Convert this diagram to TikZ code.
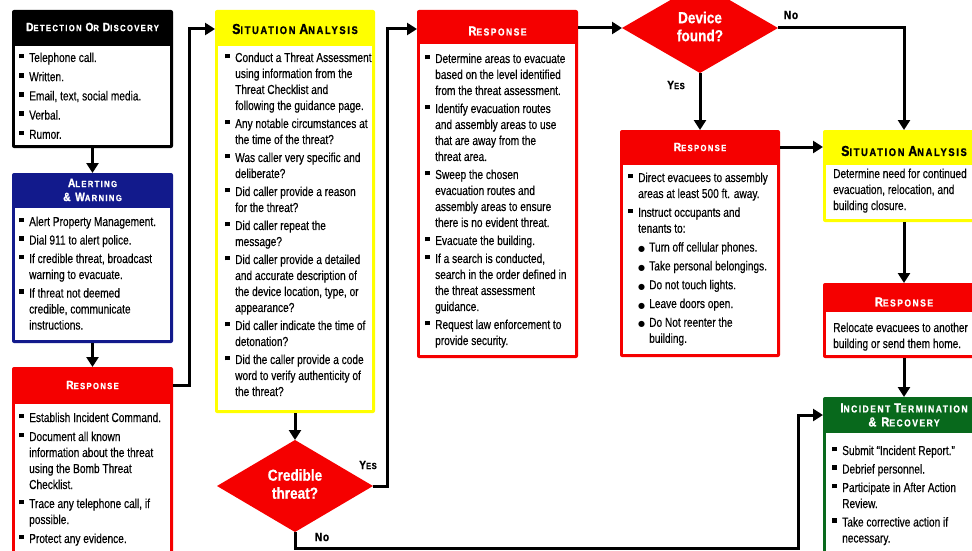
\documentclass[tikz,border=0pt]{standalone}
\usepackage{fontspec}
\setmainfont{Liberation Sans}[FakeStretch=0.78,FakeBold=0.3]
\newfontfamily\hdfont{Liberation Sans}[FakeStretch=0.85,LetterSpace=15,FakeBold=1.2]
\newfontfamily\lbfont{Liberation Sans}[FakeStretch=0.85,LetterSpace=6,FakeBold=1]
\newfontfamily\dmfont{Liberation Sans}[FakeStretch=0.85,FakeBold=0.6]
\newfontfamily\symfont{DejaVu Sans}
\usetikzlibrary{arrows.meta,shapes.geometric,calc}
\definecolor{fred}{RGB}{245,0,0}
\definecolor{fblue}{RGB}{18,26,140}
\definecolor{fgreen}{RGB}{8,105,28}
\definecolor{fyellow}{RGB}{255,255,0}
\newcommand\sqb{\rule[3.6pt]{4.5pt}{4.5pt}}
\newcommand\itm{\par\noindent\hangindent=10pt\hangafter=1\makebox[10pt][l]{\sqb}}
\newcommand\sitm{\par\noindent\hangindent=21pt\hangafter=1\hspace*{10pt}\makebox[11pt][l]{\symfont\fontsize{8}{8}\selectfont ●}}
\newcommand\bodytext[2][2.5pt]{\parbox[t]{170pt}{\fontsize{13}{16}\selectfont\raggedright\parskip=#1\relax #2}}
\newcommand\hsl[2]{{\fontsize{14.5}{14.5}\selectfont #1}{\fontsize{11}{11}\selectfont #2}}
\newcommand\hsc[2]{{\fontsize{13}{13}\selectfont #1}{\fontsize{10}{10}\selectfont #2}}
\newcommand\hscs[2]{{\fontsize{12}{12}\selectfont #1}{\fontsize{9}{9}\selectfont #2}}
\newcommand\lsc[2]{{\fontsize{12}{12}\selectfont #1}{\fontsize{9}{9}\selectfont #2}}
\newcommand\flowbox[7]{%
  \node[boxbase, fill=#2, minimum width={(#5)-(#3)}, minimum height={(#6)-(#4)}] (#1) at ({((#3)+(#5))/2},{((#4)+(#6))/2}) {};
  \fill[white] ({(#3)+3},{#7}) rectangle ({(#5)-3},{(#6)-3});}
\begin{document}
\begin{tikzpicture}[x=1pt,y=-1pt,
  boxbase/.style={rectangle, rounded corners=2pt, inner sep=0pt, outer sep=0pt},
  hdr/.style={inner sep=0pt, align=center, font=\hdfont\bfseries},
  bodyt/.style={anchor=base west, inner sep=0pt},
  arr/.style={line width=3pt, -{Triangle[width=12pt,length=10pt]}},
  lbl/.style={inner sep=0pt, font=\lbfont\bfseries},
  dia/.style={diamond, fill=fred, inner sep=0pt, outer sep=0pt, minimum width=156pt, minimum height=92pt},
  diatxt/.style={inner sep=0pt, align=center, text=white, font=\dmfont\bfseries\fontsize{16}{18}\selectfont}]
\clip (0,0) rectangle (972,551);

% ---------- boxes ----------
\flowbox{det}{black}{12}{10}{173}{148}{46}
\node[hdr, text=white] (deth) at (92.5,27) {\hscs{D}{ETECTION} \hscs{O}{R} \hscs{D}{ISCOVERY}};
\node[bodyt] (detb) at (19,62) {\bodytext[3.2pt]{%
\itm Telephone call.
\itm Written.
\itm Email, text, social media.
\itm Verbal.
\itm Rumor.}};

\flowbox{alert}{fblue}{12}{173}{173}{343}{208}
\node[hdr, text=white] (alerth) at (92.5,190) {\hscs{A}{LERTING}\\[2pt]\hscs{\& W}{ARNING}};
\node[bodyt] (alertb) at (19,226) {\bodytext[2.5pt]{%
\itm Alert Property Management.
\itm Dial 911 to alert police.
\itm If credible threat, broadcast\newline warning to evacuate.
\itm If threat not deemed\newline credible, communicate\newline instructions.}};

\flowbox{resp1}{fred}{12}{367}{173}{560}{404}
\node[hdr, text=white] (resp1h) at (92.5,385) {\hscs{R}{ESPONSE}};
\node[bodyt] (resp1b) at (19,422) {\bodytext[3pt]{%
\itm Establish Incident Command.
\itm Document all known\newline information about the threat\newline using the Bomb Threat\newline Checklist.
\itm Trace any telephone call, if\newline possible.
\itm Protect any evidence.}};

\flowbox{sit1}{fyellow}{215}{10}{375}{413}{46}
\node[hdr, text=black] (sit1h) at (295,29) {\hsl{S}{ITUATION} \hsl{A}{NALYSIS}};
\node[bodyt] (sit1b) at (225,62) {\bodytext[2pt]{%
\itm Conduct a Threat Assessment\newline using information from the\newline Threat Checklist and\newline following the guidance page.
\itm Any notable circumstances at\newline the time of the threat?
\itm Was caller very specific and\newline deliberate?
\itm Did caller provide a reason\newline for the threat?
\itm Did caller repeat the\newline message?
\itm Did caller provide a detailed\newline and accurate description of\newline the device location, type, or\newline appearance?
\itm Did caller indicate the time of\newline detonation?
\itm Did the caller provide a code\newline word to verify authenticity of\newline the threat?}};

\flowbox{resp2}{fred}{417}{10}{578}{358}{44}
\node[hdr, text=white] (resp2h) at (497.5,31) {\hsc{R}{ESPONSE}};
\node[bodyt] (resp2b) at (425,63) {\bodytext[2pt]{%
\itm Determine areas to evacuate\newline based on the level identified\newline from the threat assessment.
\itm Identify evacuation routes\newline and assembly areas to use\newline that are away from the\newline threat area.
\itm Sweep the chosen\newline evacuation routes and\newline assembly areas to ensure\newline there is no evident threat.
\itm Evacuate the building.
\itm If a search is conducted,\newline search in the order defined in\newline the threat assessment\newline guidance.
\itm Request law enforcement to\newline provide security.}};

\flowbox{resp3}{fred}{620}{130}{780}{357}{165}
\node[hdr, text=white] (resp3h) at (700,147) {\hscs{R}{ESPONSE}};
\node[bodyt] (resp3b) at (628,182) {\bodytext[2.8pt]{%
\itm Direct evacuees to assembly\newline areas at least 500 ft. away.
\itm Instruct occupants and\newline tenants to:
\sitm Turn off cellular phones.
\sitm Take personal belongings.
\sitm Do not touch lights.
\sitm Leave doors open.
\sitm Do Not reenter the\newline building.}};

\flowbox{sit2}{fyellow}{823}{130}{985}{222}{165}
\node[hdr, text=black] (sit2h) at (904,151) {\hsl{S}{ITUATION} \hsl{A}{NALYSIS}};
\node[bodyt] (sit2b) at (833,178) {\bodytext[2pt]{%
\noindent Determine need for continued\newline evacuation, relocation, and\newline building closure.}};

\flowbox{resp4}{fred}{823}{283}{985}{358}{312}
\node[hdr, text=white] (resp4h) at (904,302) {\hsc{R}{ESPONSE}};
\node[bodyt] (resp4b) at (833,332) {\bodytext[2pt]{%
\noindent Relocate evacuees to another\newline building or send them home.}};

\flowbox{inc}{fgreen}{823}{397}{985}{560}{433}
\node[hdr, text=white] (inch) at (904,415) {\hsc{I}{NCIDENT} \hsc{T}{ERMINATION}\\[2pt]\hsc{\& R}{ECOVERY}};
\node[bodyt] (incb) at (832,455) {\bodytext[2.5pt]{%
\itm Submit “Incident Report.”
\itm Debrief personnel.
\itm Participate in After Action\newline Review.
\itm Take corrective action if\newline necessary.}};

% ---------- decisions ----------
\node[dia] (cred) at (295,486) {};
\node[diatxt] (credt) at (295,484) {Credible\\threat?};
\node[dia, minimum height=90pt] (dev) at (700,28) {};
\node[diatxt] (devt) at (700,26.5) {Device\\found?};

% ---------- labels ----------
\node[lbl] (yes1) at (368,465) {\lsc{Y}{ES}};
\node[lbl] (no1) at (322,537) {\fontsize{12}{12}\selectfont No};
\node[lbl] (yes2) at (676,85) {\lsc{Y}{ES}};
\node[lbl] (no2) at (791,15) {\fontsize{12}{12}\selectfont No};

% ---------- junction points ----------
\coordinate (j1) at (189,0);
\coordinate (j2) at (387,0);
\coordinate (j3) at (798,548);

% ---------- connectors ----------
\draw[arr] (det.south) -- (alert.north);
\draw[arr] (alert.south) -- (resp1.north);
\draw[arr] (resp1.east |- resp1h) -- (j1 |- resp1h) -- (j1 |- sit1h) -- (sit1.west |- sit1h);
\draw[arr] (sit1.south) -- (cred.north);
\draw[arr] (cred.east) -- (j2 |- cred.east) -- (j2 |- sit1h) -- (resp2.west |- sit1h);
\draw[arr] (cred.south) -- (cred.south |- j3) -- (j3) -- (j3 |- inch) -- (inc.west |- inch);
\draw[arr] (resp2.east |- dev.west) -- (dev.west);
\draw[arr] (dev.east) -| (sit2.north);
\draw[arr] (dev.south) -- (resp3.north);
\draw[arr] (resp3.east |- resp3h) -- (sit2.west |- resp3h);
\draw[arr] (sit2.south) -- (resp4.north);
\draw[arr] (resp4.south) -- (inc.north);
\end{tikzpicture}
\end{document}
